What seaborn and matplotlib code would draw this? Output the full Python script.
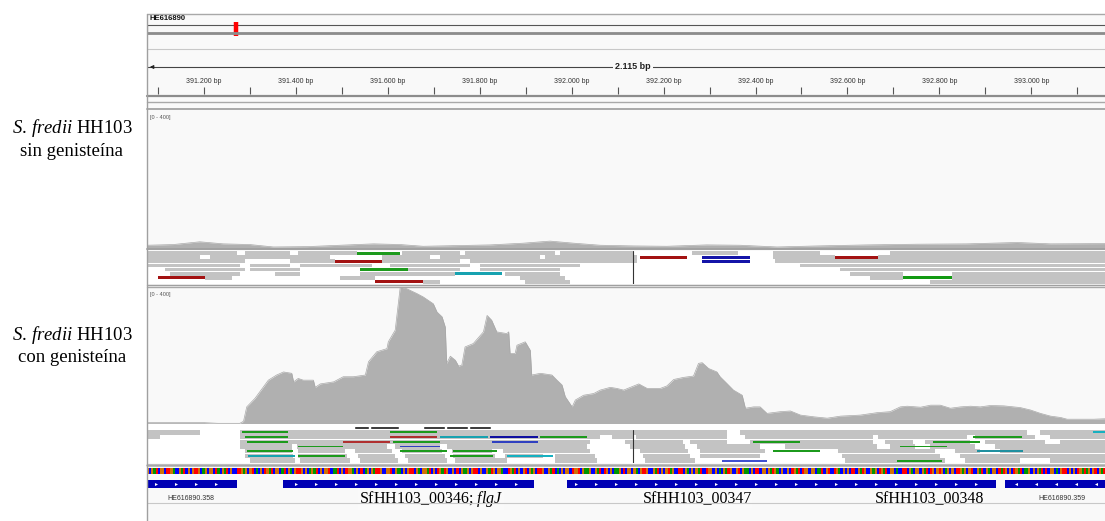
import numpy as np
import matplotlib
matplotlib.use("Agg")
import matplotlib.pyplot as plt
from matplotlib.lines import Line2D
from matplotlib.patches import Rectangle
import seaborn as sns

sns.set_theme(style="white")
plt.rcParams["font.family"] = ["Liberation Sans", "DejaVu Sans"]
plt.rcParams["mathtext.fontset"] = "custom"
plt.rcParams["mathtext.rm"] = "Liberation Serif"
plt.rcParams["mathtext.it"] = "Liberation Serif:italic"

# ---------------------------------------------------------------- locus
chrom_name = "HE616890"
chrom_length = 4305723
view_start = 391076
view_span = 2115
view_end = view_start + view_span
view_label = "2.115 bp"
cov_max = 400

tick_positions = [391200, 391400, 391600, 391800, 392000,
                  392200, 392400, 392600, 392800, 393000]
tick_labels = ["391.200 bp", "391.400 bp", "391.600 bp", "391.800 bp", "392.000 bp",
               "392.200 bp", "392.400 bp", "392.600 bp", "392.800 bp", "393.000 bp"]
minor_ticks = [391100, 391300, 391500, 391700, 391900,
               392100, 392300, 392500, 392700, 392900, 393100]

# ---------------------------------------------------------------- coverage
cov1_pos = [391076, 391133, 391191, 391242, 391300, 391351, 391424, 391496, 391569, 391627,
            391677, 391750, 391823, 391895, 391953, 392004, 392062, 392135, 392207, 392294,
            392367, 392447, 392534, 392643, 392751, 392860, 392969, 393042, 393191]
cov1_val = [8, 10, 18, 12, 10, 3, 4, 8, 12, 10,
            5, 7, 9, 14, 20, 14, 8, 6, 5, 9,
            8, 3, 6, 9, 11, 12, 16, 12, 13]

cov2_pos = [391076, 391200, 391230, 391278, 391286, 391293, 391311, 391340, 391358, 391373,
            391391, 391395, 391405, 391416, 391438, 391442, 391453, 391482, 391503, 391525,
            391551, 391558, 391576, 391598, 391601, 391616, 391627, 391641, 391663, 391677,
            391699, 391707, 391718, 391725, 391728, 391736, 391747, 391754, 391761, 391768,
            391786, 391808, 391816, 391826, 391837, 391859, 391863, 391866, 391877, 391881,
            391899, 391910, 391913, 391932, 391957, 391968, 391979, 391986, 392001, 392008,
            392026, 392048, 392062, 392084, 392098, 392113, 392135, 392146, 392164, 392193,
            392207, 392222, 392243, 392265, 392276, 392284, 392298, 392316, 392323, 392338,
            392352, 392371, 392378, 392396, 392410, 392425, 392454, 392476, 392498, 392527,
            392556, 392585, 392628, 392664, 392693, 392715, 392730, 392759, 392781, 392802,
            392824, 392846, 392868, 392889, 392911, 392940, 392976, 392998, 393020, 393042,
            393064, 393078, 393107, 393136, 393191]
cov2_val = [4, 4, 2, 2, 8, 50, 75, 128, 143, 152,
            148, 123, 133, 128, 128, 107, 117, 123, 138, 138,
            143, 182, 211, 220, 240, 274, 400, 395, 381, 371,
            351, 327, 313, 283, 177, 198, 186, 169, 172, 225,
            235, 269, 317, 303, 269, 264, 269, 206, 206, 230,
            240, 215, 143, 148, 143, 128, 114, 80, 50, 70,
            84, 89, 99, 107, 104, 99, 111, 117, 104, 104,
            111, 130, 136, 140, 177, 179, 162, 152, 138, 118,
            99, 84, 46, 50, 50, 31, 36, 38, 26, 21,
            17, 23, 26, 33, 36, 50, 52, 49, 55, 55,
            46, 50, 52, 50, 54, 53, 48, 41, 31, 23,
            19, 14, 14, 14, 17]

# ---------------------------------------------------------------- alignments
# packed read rows: (start, end) spans of grey reads per row
reads1_rows = [
    [(391076, 391272), (391289, 391387), (391405, 391533), (391631, 391757), (391768, 391964),
     (391975, 392134), (392262, 392362), (392438, 392540), (392693, 393191)],
    [(391076, 391191), (391213, 391474), (391587, 391692), (391714, 391931), (391942, 392142),
     (392438, 392573), (392667, 393191)],
    [(391076, 391289), (391387, 391485), (391587, 391757), (391779, 392142), (392443, 393191)],
    [(391076, 391278), (391300, 391387), (391409, 391566), (391605, 391779), (391801, 392018),
     (392497, 393191)],
    [(391115, 391289), (391300, 391409), (391644, 391757), (391801, 391975), (392584, 393191)],
    [(391126, 391278), (391355, 391409), (391540, 391746), (391855, 391975), (392606, 392721),
     (392828, 393191)],
    [(391202, 391261), (391496, 391572), (391888, 391986), (392649, 392721), (392828, 393191)],
    [(391677, 391714), (391899, 391996), (392780, 393191)],
]
# coloured reads: start, end, row, colour
reads1_col_start = [391533, 391485, 392149, 392284, 392284, 391540, 391746, 391100, 391572, 392573, 392721]
reads1_col_end = [391627, 391587, 392251, 392388, 392388, 391644, 391849, 391202, 391677, 392667, 392828]
reads1_col_row = [0, 2, 1, 1, 2, 4, 5, 6, 7, 1, 6]
reads1_col_color = ["#1c9a1c", "#a31212", "#a31212", "#1414a8", "#1414a8", "#1c9a1c",
                    "#17a2b0", "#a31212", "#a31212", "#a31212", "#129a12"]

reads2_rows = [
    [(391076, 391191), (391278, 392338), (392367, 392991), (393019, 393191)],
    [(391076, 391104), (391278, 392062), (392088, 392134), (392140, 392338), (392377, 392656),
     (392667, 392860), (392878, 393008), (393041, 393191)],
    [(391278, 392040), (392116, 392242), (392258, 392338), (392388, 392656), (392682, 392743),
     (392769, 392867), (392900, 393030), (393063, 393191)],
    [(391278, 391392), (391402, 391598), (391616, 391714), (391729, 392033), (392127, 392247),
     (392273, 392410), (392464, 392664), (392693, 392747), (392780, 392878), (392921, 393191)],
    [(391289, 391392), (391405, 391507), (391529, 391609), (391631, 391718), (391740, 391827),
     (391851, 392040), (392149, 392253), (392279, 392421), (392580, 392790), (392834, 392889),
     (392932, 393191)],
    [(391289, 391394), (391405, 391511), (391535, 391616), (391637, 391724), (391742, 391833),
     (391855, 391938), (391964, 392051), (392155, 392258), (392279, 392410), (392588, 392801),
     (392845, 393191)],
    [(391300, 391398), (391409, 391518), (391540, 391622), (391644, 391729), (391746, 391859),
     (391964, 392055), (392160, 392268), (392595, 392812), (392856, 392976), (393041, 393191)],
]
reads2_col_start = [391283, 391289, 391294, 391294, 391296, 391405, 391405, 391502, 391605, 391605,
                    391611, 391627, 391627, 391714, 391742, 391735, 391822, 391827, 391859, 391931,
                    392395, 392438, 392327, 392715, 392786, 392873, 392882, 392708, 393134]
reads2_col_end = [391383, 391383, 391383, 391394, 391398, 391502, 391507, 391605, 391707, 391707,
                  391714, 391714, 391729, 391818, 391838, 391829, 391927, 391927, 391959, 392033,
                  392497, 392540, 392425, 392817, 392889, 392980, 392982, 392806, 393191]
reads2_col_row = [0, 1, 2, 4, 5, 3, 5, 2, 1, 0,
                  2, 3, 4, 1, 4, 5, 1, 2, 5, 1,
                  2, 4, 6, 3, 2, 1, 4, 6, 0]
reads2_col_color = ["#1c9a1c", "#1c9a1c", "#1c9a1c", "#1c9a1c", "#17a2b0", "#1c9a1c", "#1c9a1c",
                    "#b03030", "#b03030", "#1c9a1c", "#1c9a1c", "#3040c0", "#1c9a1c", "#17a2b0",
                    "#1c9a1c", "#1c9a1c", "#1010a0", "#3040c0", "#17b0c0", "#1c9a1c", "#1c9a1c",
                    "#1c9a1c", "#4050d0", "#1c9a1c", "#1c9a1c", "#1c9a1c", "#2090a0", "#1c9a1c",
                    "#17b0c0"]

# small feature blocks between coverage and reads
block_start = [391526, 391561, 391677, 391727, 391777]
block_end = [391559, 391624, 391724, 391775, 391825]

# ---------------------------------------------------------------- sequence
sequence = (
    "GCGATCGGCTTGACCGATCGCGTTGCAGCGGCTACGATCGCCTTGAGCGTCACGCTGATCGGCATCGACGTTGCGCAG"
    "ATCGCGGTCAATCGCTGGACGCTCAGCGATTGCCGGTCGAACGCGTTCGACGGATCGCTGATGCCGCTCGAAGCGTTC"
    "GCCGATGCGGACCTGATCGCGTCGAGCTTGCCGATCACGCGGCTGGTCGAAGCCGATCTGCGCAAGCTCGGCGACGTT"
    "GCCGATCGCGTAGCCTTCGACGCGATCCTGGCGCACGATGCCGTCGAACGCTTCGGCGATGACGCCGCTGATCTGGCG"
    "GCAATCGTCCTGACGCGCTTCGATGCCGAGCTGATCGGCACCTTCGACGGCGATCTGCGTGCAGCGCTTGAGCGTCCG"
    "ATCGACGGCTATGCGCTGATCAAGCGCGATCTCGGCACGTTCGCGCTGATAGCGTCGATCGGCTAC"
)
base_colors = {"A": "#009600", "C": "#0000ff", "G": "#d17105", "T": "#ff0000"}

# ---------------------------------------------------------------- genes
gene_start = [390800, 391372, 391990, 392943]
gene_end = [391272, 391918, 392923, 393600]
gene_strand = ["+", "+", "+", "-"]
small_labels = ["HE616890.358", "HE616890.359"]
small_label_pos = [391172, 393067]
gene_names = ["SfHH103_00346; $\\it{flgJ}$", "SfHH103_00347", "SfHH103_00348"]
gene_name_pos = [391694, 392273, 392778]

sample_names = [("$\\it{S.\\,fredii}$ HH103", "sin genisteína"),
                ("$\\it{S.\\,fredii}$ HH103", "con genisteína")]

# ---------------------------------------------------------------- layout
W, H = 1105, 521
X0 = 147
X1 = X0 + view_span * 0.4596
fig = plt.figure(figsize=(W / 100, H / 100), dpi=100)
fig.patch.set_facecolor("white")

fig.add_artist(Rectangle((X0 / W, 0), (W - X0) / W, 1 - 14 / H, transform=fig.transFigure,
                         facecolor="#f9f9f9", edgecolor="none", zorder=0))


def track_axes(top, bottom, face="none"):
    ax = fig.add_axes([X0 / W, 1 - bottom / H, (X1 - X0) / W, (bottom - top) / H])
    ax.set_facecolor(face)
    ax.set_xticks([])
    ax.set_yticks([])
    for s in ax.spines.values():
        s.set_visible(False)
    ax.set_xlim(view_start, view_end)
    return ax


def hline(y, color="#a0a0a0", lw=1.0):
    fig.add_artist(Line2D([X0 / W, 1], [1 - y / H] * 2, transform=fig.transFigure,
                          color=color, lw=lw, zorder=5))


# chromosome ideogram
ax_id = track_axes(22, 36)
ax_id.set_xlim(0, chrom_length)
ax_id.set_ylim(0, 1)
ax_id.add_patch(Rectangle((0, 0.25), chrom_length, 0.55, facecolor="#f7f7f7",
                          edgecolor="#555555", lw=0.8))
ax_id.plot([0, chrom_length], [0.25, 0.25], color="#8c8c8c", lw=2)
ax_id.axvspan(view_start, view_end, 0.05, 0.95, facecolor="#ff0000", edgecolor="#ff0000", lw=2.5)
fig.text((X0 + 2) / W, 1 - 19 / H, chrom_name, fontsize=5.5, fontweight="bold",
         va="center", ha="left", color="#111111")

# ruler
ax_r = track_axes(55, 95)
ax_r.set_ylim(0, 1)
ax_r.plot([view_start, view_end], [0.7, 0.7], color="#444444", lw=0.8)
ax_r.annotate("", xy=(view_start, 0.7), xytext=(view_start + 20, 0.7),
              arrowprops=dict(arrowstyle="-|>", color="#222222", lw=0.8, mutation_scale=5))
ax_r.text(view_start + view_span / 2, 0.7, view_label, ha="center", va="center",
          fontsize=6.5, fontweight="bold", color="#222222",
          bbox=dict(facecolor="#f9f9f9", edgecolor="none", pad=1.5))
ax_r.vlines(tick_positions + minor_ticks, 0.03, 0.2, color="#555555", lw=0.8)
for t, lab in zip(tick_positions, tick_labels):
    ax_r.text(t, 0.33, lab, ha="center", va="center", fontsize=5, color="#333333")

# frame lines
hline(14, "#a8a8a8", 1.0)
hline(49, "#c8c8c8", 0.8)
hline(95.5, "#8c8c8c", 1.6)
hline(101.5, "#a8a8a8", 1.0)
hline(108.5, "#a8a8a8", 1.4)
hline(248.5, "#a0a0a0", 1.4)
hline(284.5, "#a0a0a0", 1.0)
hline(286.5, "#a8a8a8", 1.0)
hline(465, "#a8a8a8", 1.8)
hline(503, "#c8c8c8", 0.8)
fig.add_artist(Line2D([X0 / W] * 2, [0, 1 - 14 / H], transform=fig.transFigure,
                      color="#a0a0a0", lw=1.0, zorder=5))


def coverage(ax, pos, val):
    ax.set_ylim(0, cov_max)
    ax.fill_between(pos, 0, val, color="#b0b0b0", lw=0)
    sns.lineplot(x=pos, y=val, ax=ax, color="#a8a8a8", lw=0.5, estimator=None)
    ax.set_xlabel("")
    ax.set_ylabel("")
    ax.set_xticks([])
    ax.set_yticks([])
    ax.set_xlim(view_start, view_end)
    ax.text(3 / 972, 0.965, f"[0 - {cov_max}]", transform=ax.transAxes, fontsize=4,
            color="#555555", va="top", ha="left")


def alignments(ax, rows, cs, ce, cr, cc, col_h, grey="#c3c3c3"):
    n = len(rows)
    ax.set_ylim(n, 0)
    for i, spans in enumerate(rows):
        ax.broken_barh([(a, b - a) for a, b in spans], (i + 0.04, 0.92),
                       facecolors=grey, edgecolor="none")
    for a, b, r, c in zip(cs, ce, cr, cc):
        ax.broken_barh([(a, b - a)], (r + 0.5 - col_h / 2, col_h), facecolors=c, edgecolor="none")
    ax.axvline(view_start + view_span / 2, color="#333333", lw=0.8)


ax_c1 = track_axes(110, 248, "#f9f9f9")
coverage(ax_c1, cov1_pos, cov1_val)

ax_a1 = track_axes(251, 284, "white")
alignments(ax_a1, reads1_rows, reads1_col_start, reads1_col_end, reads1_col_row,
           reads1_col_color, 0.7)

ax_c2 = track_axes(287, 424, "#f9f9f9")
coverage(ax_c2, cov2_pos, cov2_val)

ax_b = track_axes(424, 430, "white")
ax_b.set_ylim(0, 1)
ax_b.broken_barh([(a, b - a) for a, b in zip(block_start, block_end)], (0.2, 0.55),
                 facecolors="#111111")

ax_a2 = track_axes(430, 463, "white")
alignments(ax_a2, reads2_rows, reads2_col_start, reads2_col_end, reads2_col_row,
           reads2_col_color, 0.38)

# reference sequence
ax_s = track_axes(467.5, 474.5)
codes = np.array([matplotlib.colors.to_rgb(base_colors[b]) for b in sequence])[None, :, :]
ax_s.imshow(codes, extent=[view_start, view_end, 0, 1], aspect="auto", interpolation="nearest")
ax_s.set_xlim(view_start, view_end)
ax_s.set_ylim(0, 1)

# gene annotation
ax_g = track_axes(476, 512)
ax_g.set_ylim(1, 0)
arrow_spacing = 43.5
arrow_grid = np.arange(view_start + 20, view_end, arrow_spacing)
for s, e, st in zip(gene_start, gene_end, gene_strand):
    ax_g.broken_barh([(s, e - s)], (4 / 36, 8 / 36), facecolors="#0000b4", edgecolor="none")
    inside = arrow_grid[(arrow_grid > s + 8) & (arrow_grid < e - 8)]
    ax_g.plot(inside, np.full(len(inside), 8 / 36), ls="none",
              marker=">" if st == "+" else "<", ms=2.2, color="white", mew=0)
for lab, p in zip(small_labels, small_label_pos):
    ax_g.text(p, 23 / 36, lab, ha="center", va="center", fontsize=5, color="#333333")
for lab, p in zip(gene_names, gene_name_pos):
    ax_g.text(p, 23 / 36, lab, ha="center", va="center", fontsize=11.5,
              fontfamily="Liberation Serif", color="black",
              bbox=dict(facecolor="#fafafa", edgecolor="none", pad=0.5))

# sample labels
for (l1, l2), yc in zip(sample_names, [128, 335]):
    fig.text(72 / W, 1 - yc / H, l1, ha="center", va="center", fontsize=13.5,
             fontfamily="Liberation Serif", color="black")
    fig.text(72 / W, 1 - (yc + 23) / H, l2, ha="center", va="center", fontsize=13.5,
             fontfamily="Liberation Serif", color="black")

fig.savefig("out.png", dpi=100, facecolor="white")
